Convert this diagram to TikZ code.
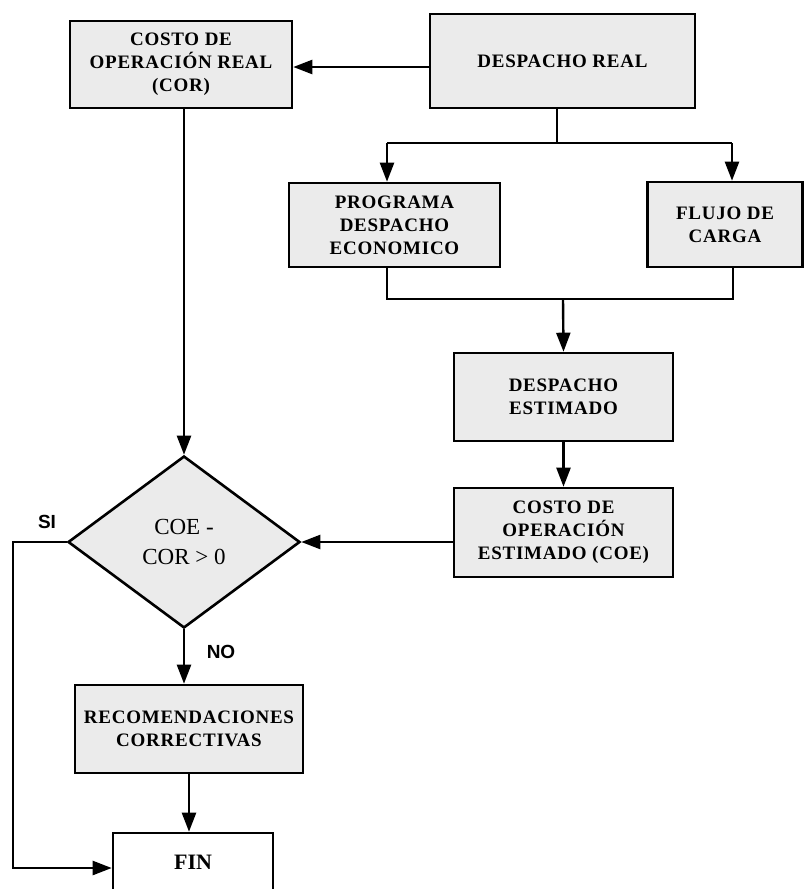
\documentclass[tikz,border=0pt]{standalone}
\usepackage{fontspec}
\setmainfont{Liberation Serif}
\newfontfamily\boxfont[LetterSpace=4]{Liberation Serif}
\newfontfamily\lblfont{Liberation Sans}
\usetikzlibrary{arrows.meta,shapes.geometric}
\begin{document}
\begin{tikzpicture}[x=1pt,y=-1pt,
  box/.style={draw=black, line width=2.6pt, fill=black!8, align=center,
    inner sep=2pt, font=\boxfont\bfseries\fontsize{19}{23}\selectfont},
  decision/.style={draw=black, line width=2.6pt, fill=black!8, diamond, align=center,
    inner sep=0pt, font=\fontsize{23}{30}\selectfont},
  conn/.style={draw=black, line width=2.4pt},
  arr/.style={conn, -{Triangle[length=19pt,width=14pt]}},
  lbl/.style={font=\lblfont\bfseries\fontsize{19}{20}\selectfont}]
\useasboundingbox (0,0) rectangle (806,889);
\clip (0,0) rectangle (806,889);
% nodes
\node[box, minimum width=222pt, minimum height=87pt] (COR) at (181,64.5) {COSTO DE\\OPERACIÓN REAL\\(COR)};
\node[box, minimum width=265pt, minimum height=94pt] (DR) at (562.5,61) {DESPACHO REAL};
\node[box, minimum width=211pt, minimum height=84pt] (PROG) at (394.5,225) {PROGRAMA\\DESPACHO\\ECONOMICO};
\node[box, minimum width=155pt, minimum height=85pt] (FL) at (725,224.5) {FLUJO DE\\CARGA};
\node[box, minimum width=219pt, minimum height=88pt] (DE) at (563.5,397) {DESPACHO\\ESTIMADO};
\node[box, minimum width=219pt, minimum height=89pt] (COE) at (563.5,532.5) {COSTO DE\\OPERACIÓN\\ESTIMADO (COE)};
\node[decision, minimum width=232pt, minimum height=172pt] (D) at (184,542) {COE -\\COR > 0};
\node[box, minimum width=228pt, minimum height=88pt] (RE) at (189,729) {RECOMENDACIONES\\CORRECTIVAS};
\node[box, fill=white, minimum width=160pt, minimum height=80pt] (FIN) at (193,873) {};
\node[font=\bfseries\fontsize{22}{24}\selectfont] (FINT) at (193,862) {FIN};
% labels
\node[lbl] (SI) at (47,522) {SI};
\node[lbl] (NO) at (221,652) {NO};
% junction coordinates
\coordinate (j1) at (557,143);
\coordinate (jl) at (387,143);
\coordinate (jr) at (732,143);
\coordinate (kl) at (387,299);
\coordinate (kr) at (733,299);
\coordinate (km) at (563,299);
\coordinate (s1) at (13,868);
% connectors
\draw[arr] ([yshift=-6pt]DR.west) -- ([yshift=-6pt]DR.west -| COR.east);
\draw[conn] (j1 |- DR.south) -- (j1);
\draw[conn] (jl) -- (jr);
\draw[arr] (jl) -- (jl |- PROG.north);
\draw[arr] (jr) -- (jr |- FL.north);
\draw[conn] (kl |- PROG.south) -- (kl) -- (kr) -- (kr |- FL.south);
\draw[arr] (km) -- (DE.north);
\draw[arr] (DE.south) -- (COE.north);
\draw[arr] (COE.west |- D.east) -- (D.east);
\draw[arr] (D.north |- COR.south) -- (D.north);
\draw[arr] (D.south) -- (D.south |- RE.north);
\draw[arr] (RE.south) -- (RE.south |- FIN.north);
\draw[arr] (D.west) -| (s1) -- (s1 -| FIN.west);
\end{tikzpicture}
\end{document}
